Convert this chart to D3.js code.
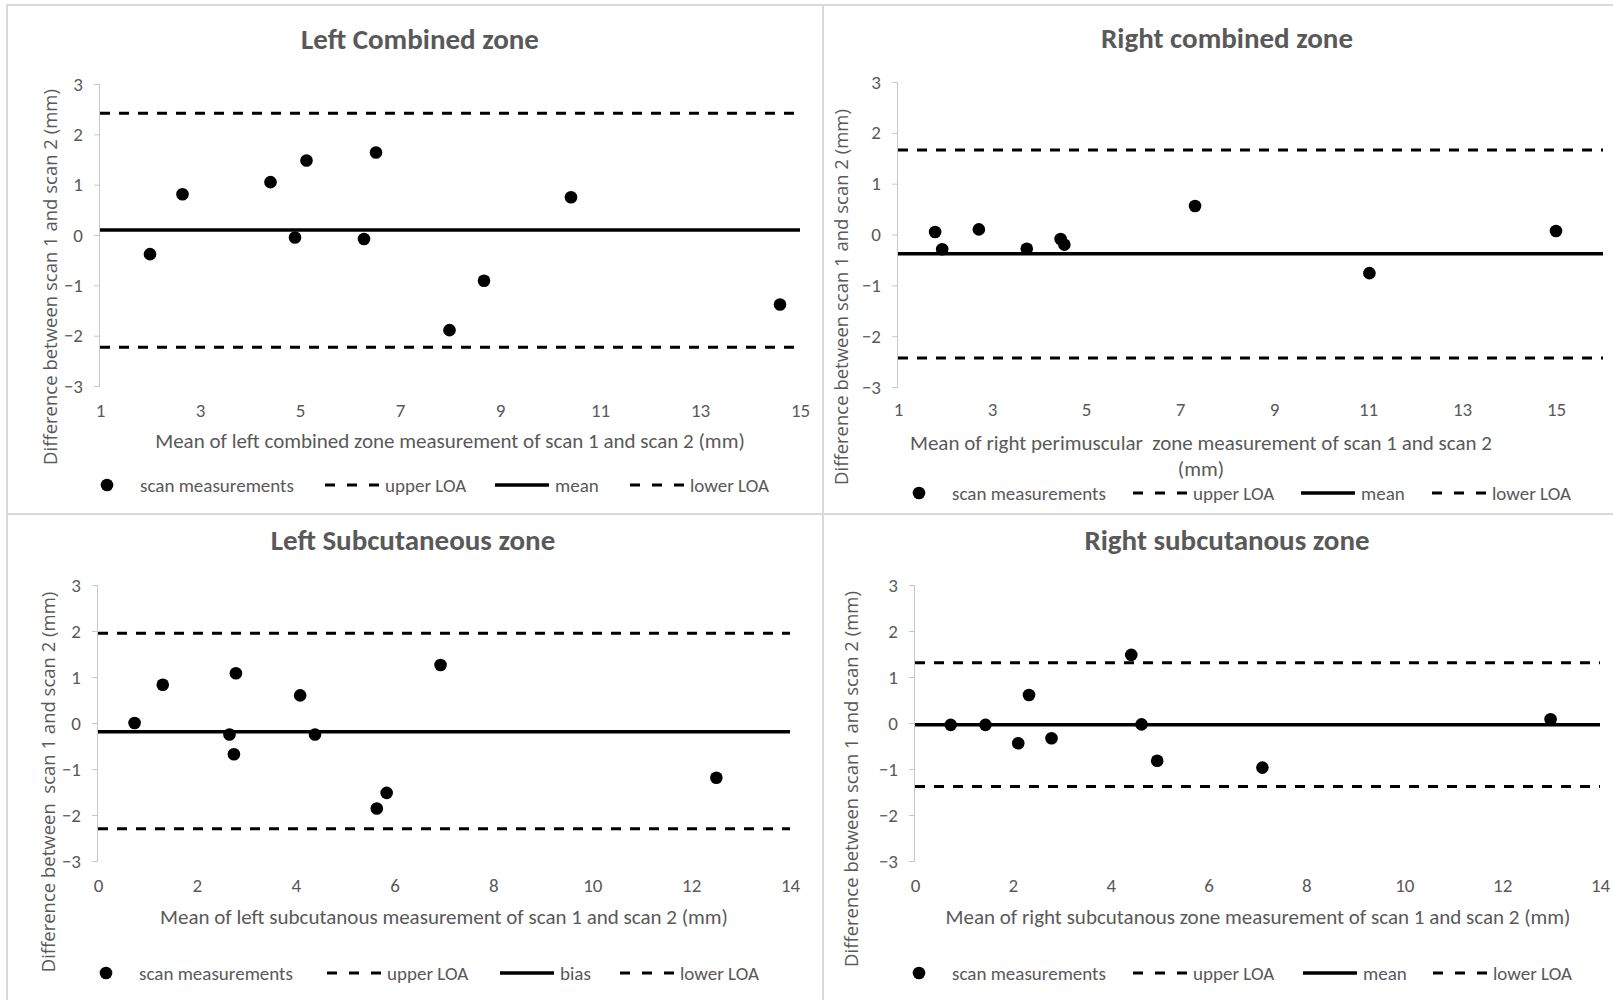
<!DOCTYPE html>
<html>
<head>
<meta charset="utf-8">
<script src="https://cdn.jsdelivr.net/npm/d3@7"></script>
<style>
  body { margin: 0; background: #fff; }
  svg text { white-space: pre; }
</style>
</head>
<body>
<svg id="svg" width="1613" height="1000"></svg>
<script>
// ---- data ----
const diffTicks = [-3, -2, -1, 0, 1, 2, 3];
const combinedXTicks = [1, 3, 5, 7, 9, 11, 13, 15];
const subcutXTicks = [0, 2, 4, 6, 8, 10, 12, 14];

// left combined zone
const leftCombinedMean = [2.0, 2.65, 4.41, 5.13, 4.9, 6.52, 6.28, 10.42, 8.68, 7.99, 14.6];
const leftCombinedDiff = [-0.38, 0.81, 1.05, 1.48, -0.05, 1.64, -0.08, 0.75, -0.91, -1.89, -1.38];
const leftCombinedLines = [2.42, 0.1, -2.23]; // upper LOA, mean, lower LOA

// right combined zone
const rightCombinedMean = [1.79, 1.94, 2.72, 3.74, 4.46, 4.54, 7.32, 11.03, 15.0];
const rightCombinedDiff = [0.05, -0.29, 0.1, -0.28, -0.09, -0.2, 0.56, -0.76, 0.07];
const rightCombinedLines = [1.66, -0.38, -2.43];

// left subcutaneous zone
const leftSubcutMean = [0.74, 1.31, 2.66, 2.79, 2.75, 4.09, 4.39, 5.64, 5.84, 6.93, 12.51];
const leftSubcutDiff = [0.0, 0.83, -0.25, 1.08, -0.68, 0.6, -0.25, -1.86, -1.52, 1.26, -1.19];
const leftSubcutLines = [1.95, -0.19, -2.3];

// right subcutaneous zone
const rightSubcutMean = [0.73, 1.44, 2.11, 2.33, 2.79, 4.42, 4.63, 4.95, 7.1, 12.99];
const rightSubcutDiff = [-0.04, -0.04, -0.44, 0.61, -0.33, 1.48, -0.03, -0.82, -0.97, 0.08];
const rightSubcutLines = [1.31, -0.04, -1.38];

const titles = ["Left Combined zone", "Right combined zone", "Left Subcutaneous zone", "Right subcutanous zone"];
const xTitles = [
  ["Mean of left combined zone measurement of scan 1 and scan 2 (mm)"],
  ["Mean of right perimuscular  zone measurement of scan 1 and scan 2", "(mm)"],
  ["Mean of left subcutanous measurement of scan 1 and scan 2 (mm)"],
  ["Mean of right subcutanous zone measurement of scan 1 and scan 2 (mm)"]
];
const yTitles = [
  "Difference between scan 1 and scan 2 (mm)",
  "Difference between scan 1 and scan 2 (mm)",
  "Difference between  scan 1 and scan 2 (mm)",
  "Difference between scan 1 and scan 2 (mm)"
];
const legendMean = ["scan measurements", "upper LOA", "mean", "lower LOA"];
const legendBias = ["scan measurements", "upper LOA", "bias", "lower LOA"];

// ---- layout ----
const labelFont = "Calibri, Carlito, Lato, sans-serif";
const yTitleFont = "'Open Sans', sans-serif";
const grey = "#595959";

const panels = [
  {
    box: [7, 5, 816, 509],
    xDomain: [1, 15], xRange: [100, 800], yRange: [386, 84], xTicks: combinedXTicks,
    xs: leftCombinedMean, ys: leftCombinedDiff, lines: leftCombinedLines,
    title: titles[0], titleX: 420, titleY: 49,
    xTitle: xTitles[0], xTitleX: 450, xTitleY: 448, tickY: 417,
    yTitle: yTitles[0], yTitleX: 49, yTitleY: 277,
    legend: legendMean, legendY: 485, legendX: [101, 325, 495, 630]
  },
  {
    box: [823, 5, 800, 509],
    xDomain: [1, 16], xRange: [898, 1603], yRange: [387, 82], xTicks: combinedXTicks,
    xs: rightCombinedMean, ys: rightCombinedDiff, lines: rightCombinedLines,
    title: titles[1], titleX: 1227, titleY: 48,
    xTitle: xTitles[1], xTitleX: 1201, xTitleY: 450, tickY: 416,
    yTitle: yTitles[1], yTitleX: 840, yTitleY: 297,
    legend: legendMean, legendY: 493, legendX: [913, 1133, 1301, 1432]
  },
  {
    box: [7, 514, 816, 500],
    xDomain: [0, 14], xRange: [98, 790], yRange: [861, 585], xTicks: subcutXTicks,
    xs: leftSubcutMean, ys: leftSubcutDiff, lines: leftSubcutLines,
    title: titles[2], titleX: 413, titleY: 550,
    xTitle: xTitles[2], xTitleX: 444, xTitleY: 924, tickY: 892,
    yTitle: yTitles[2], yTitleX: 47, yTitleY: 782,
    legend: legendBias, legendY: 973, legendX: [100, 327, 500, 620]
  },
  {
    box: [823, 514, 800, 500],
    xDomain: [0, 14], xRange: [915, 1600], yRange: [861, 585], xTicks: subcutXTicks,
    xs: rightSubcutMean, ys: rightSubcutDiff, lines: rightSubcutLines,
    title: titles[3], titleX: 1227, titleY: 550,
    xTitle: xTitles[3], xTitleX: 1258, xTitleY: 924, tickY: 892,
    yTitle: yTitles[3], yTitleX: 850, yTitleY: 779,
    legend: legendMean, legendY: 973, legendX: [913, 1133, 1303, 1433]
  }
];

const svg = d3.select("#svg");

function drawPanel(p) {
  const g = svg.append("g");

  g.append("rect")
    .attr("x", p.box[0]).attr("y", p.box[1])
    .attr("width", p.box[2]).attr("height", p.box[3])
    .attr("fill", "none").attr("stroke", "#d9d9d9").attr("stroke-width", 2);

  const x = d3.scaleLinear().domain(p.xDomain).range(p.xRange);
  const y = d3.scaleLinear().domain([-3, 3]).range(p.yRange);

  // y axis (light line, outward ticks)
  const yAxis = g.append("g")
    .attr("transform", `translate(${p.xRange[0]},0)`)
    .call(d3.axisLeft(y).tickValues(diffTicks).tickSize(6).tickPadding(11).tickFormat(d3.format("d")));
  yAxis.select(".domain").attr("stroke", "#c8c8c8").attr("d", `M-0.5,${y(3)}V${y(-3)}`);
  yAxis.selectAll(".tick line").attr("stroke", "#c8c8c8");
  yAxis.selectAll(".tick text")
    .attr("fill", grey).style("font-family", labelFont).style("font-size", "19px");

  // x tick labels only (Excel hides this axis line)
  const xAxis = g.append("g")
    .attr("transform", `translate(0,${p.tickY})`)
    .call(d3.axisBottom(x).tickValues(p.xTicks).tickSize(0).tickPadding(0).tickFormat(d3.format("d")));
  xAxis.select(".domain").remove();
  xAxis.selectAll(".tick text")
    .attr("dy", 0).attr("y", 0)
    .attr("fill", grey).style("font-family", labelFont).style("font-size", "19px");

  // LOA and mean lines
  const styles = [
    { dash: "10,9", w: 3 },
    { dash: null, w: 3.5 },
    { dash: "10,9", w: 3 }
  ];
  p.lines.forEach((v, i) => {
    g.append("line")
      .attr("x1", x(p.xDomain[0])).attr("x2", x(p.xDomain[1]))
      .attr("y1", y(v)).attr("y2", y(v))
      .attr("stroke", "#000").attr("stroke-width", styles[i].w)
      .attr("stroke-dasharray", styles[i].dash);
  });

  // points
  g.selectAll("circle.pt")
    .data(p.xs.map((d, i) => [d, p.ys[i]]))
    .join("circle")
    .attr("class", "pt")
    .attr("cx", d => x(d[0]))
    .attr("cy", d => y(d[1]))
    .attr("r", 6.3)
    .attr("fill", "#000");

  // chart title
  g.append("text")
    .attr("x", p.titleX).attr("y", p.titleY)
    .attr("text-anchor", "middle")
    .attr("fill", grey)
    .style("font-family", labelFont).style("font-weight", "bold").style("font-size", "29px")
    .text(p.title);

  // x axis title
  p.xTitle.forEach((t, i) => {
    g.append("text")
      .attr("x", p.xTitleX).attr("y", p.xTitleY + i * 26)
      .attr("text-anchor", "middle")
      .attr("fill", grey)
      .style("font-family", labelFont).style("font-size", "21px")
      .text(t);
  });

  // y axis title
  g.append("text")
    .attr("transform", `translate(${p.yTitleX},${p.yTitleY}) rotate(-90)`)
    .attr("text-anchor", "middle")
    .attr("dominant-baseline", "central")
    .attr("fill", grey)
    .style("font-family", yTitleFont).style("font-size", "18.5px")
    .text(p.yTitle);

  // legend
  const lg = g.append("g").attr("transform", `translate(0,${p.legendY})`);
  p.legend.forEach((label, i) => {
    const sx = p.legendX[i];
    let tx;
    if (i === 0) {
      lg.append("circle").attr("cx", sx + 6).attr("cy", 0).attr("r", 6.3).attr("fill", "#000");
      tx = sx + 39;
    } else {
      lg.append("line")
        .attr("x1", sx).attr("x2", sx + 54).attr("y1", 0).attr("y2", 0)
        .attr("stroke", "#000").attr("stroke-width", i === 2 ? 3.5 : 3)
        .attr("stroke-dasharray", i === 2 ? null : "10,12");
      tx = sx + 60;
    }
    lg.append("text")
      .attr("x", tx).attr("y", 0)
      .attr("dominant-baseline", "central")
      .attr("fill", grey)
      .style("font-family", labelFont).style("font-size", "19px")
      .text(label);
  });
}

panels.forEach(drawPanel);
</script>
</body>
</html>
